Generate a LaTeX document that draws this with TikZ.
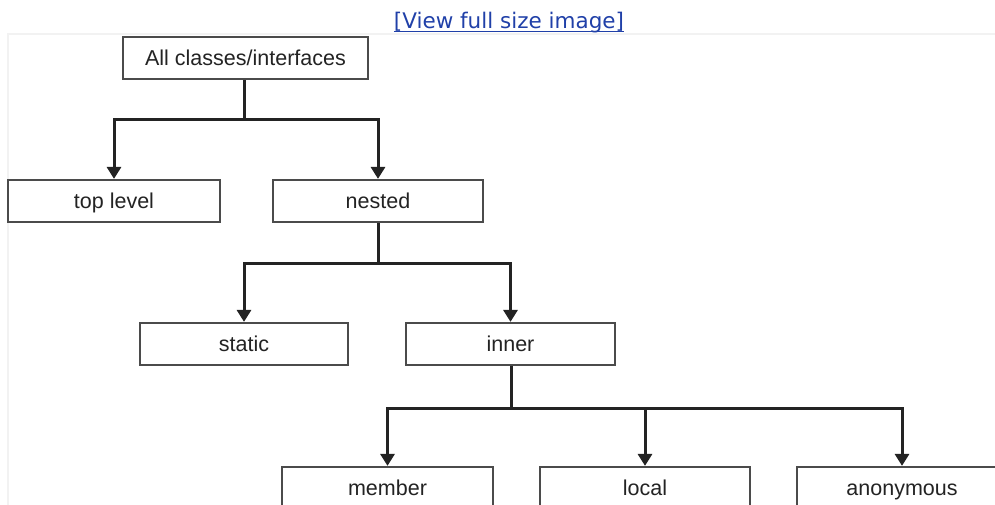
\documentclass[tikz,border=0pt]{standalone}
\usepackage{fontspec}
\setmainfont{Liberation Sans}
\newfontfamily\linkfont{DejaVu Sans}
\usetikzlibrary{arrows.meta}
\definecolor{linkblue}{RGB}{32,64,168}
\definecolor{boxedge}{RGB}{75,75,75}
\definecolor{ink}{RGB}{35,35,35}
\tikzset{
  box/.style={draw=boxedge, line width=2.2pt, fill=white, minimum height=42pt,
    inner sep=0pt, text height=18pt, text depth=3pt, text=ink,
    font=\fontsize{21.5}{24}\selectfont},
  conn/.style={draw=ink, line width=3pt},
  arr/.style={conn, -{Triangle[length=12pt,width=14pt]}},
  frame/.style={draw=black!5, line width=2pt}
}
\begin{document}
\begin{tikzpicture}[x=1pt,y=-1pt]
\useasboundingbox (0,0) rectangle (995,505);
\clip (0,0) rectangle (995,505);
% faint edge of the picture area
\draw[frame] (8,505) -- (8,34) -- (995,34);
% link
\node[anchor=base, inner sep=0pt, text=linkblue, font=\linkfont\fontsize{21.5}{24}\selectfont] (link) at (509,29) {[View full size image]};
\draw[linkblue, line width=1.2pt] ([yshift=-2.5pt]link.base west) -- ([yshift=-2.5pt]link.base east);
% boxes
\node[box, minimum width=245pt] (all) at (245.5,58) {All classes/interfaces};
\node[box, minimum width=212pt] (top) at (114,201) {top level};
\node[box, minimum width=210pt] (nested) at (378,201) {nested};
\node[box, minimum width=208pt] (static) at (244,344) {static};
\node[box, minimum width=209pt] (inner) at (510.5,344) {inner};
\node[box, minimum width=211pt] (member) at (387.5,488) {member};
\node[box, minimum width=210pt] (local) at (645,488) {local};
\node[box, minimum width=210pt] (anon) at (902,488) {anonymous};
% junctions
\coordinate (j1) at (244,120);
\coordinate (j2) at (378,263);
\coordinate (j3) at (511,408);
% connectors
\draw[conn] (all.south -| j1) -- (j1);
\draw[arr] (j1) -| (top.north);
\draw[arr] (j1) -| (nested.north);
\draw[conn] (nested.south) -- (j2);
\draw[arr] (j2) -| (static.north);
\draw[arr] (j2) -| (inner.north);
\draw[conn] (inner.south -| j3) -- (j3);
\draw[arr] (j3) -| (member.north);
\draw[arr] (j3) -| (local.north);
\draw[arr] (j3) -| (anon.north);
\end{tikzpicture}
\end{document}
